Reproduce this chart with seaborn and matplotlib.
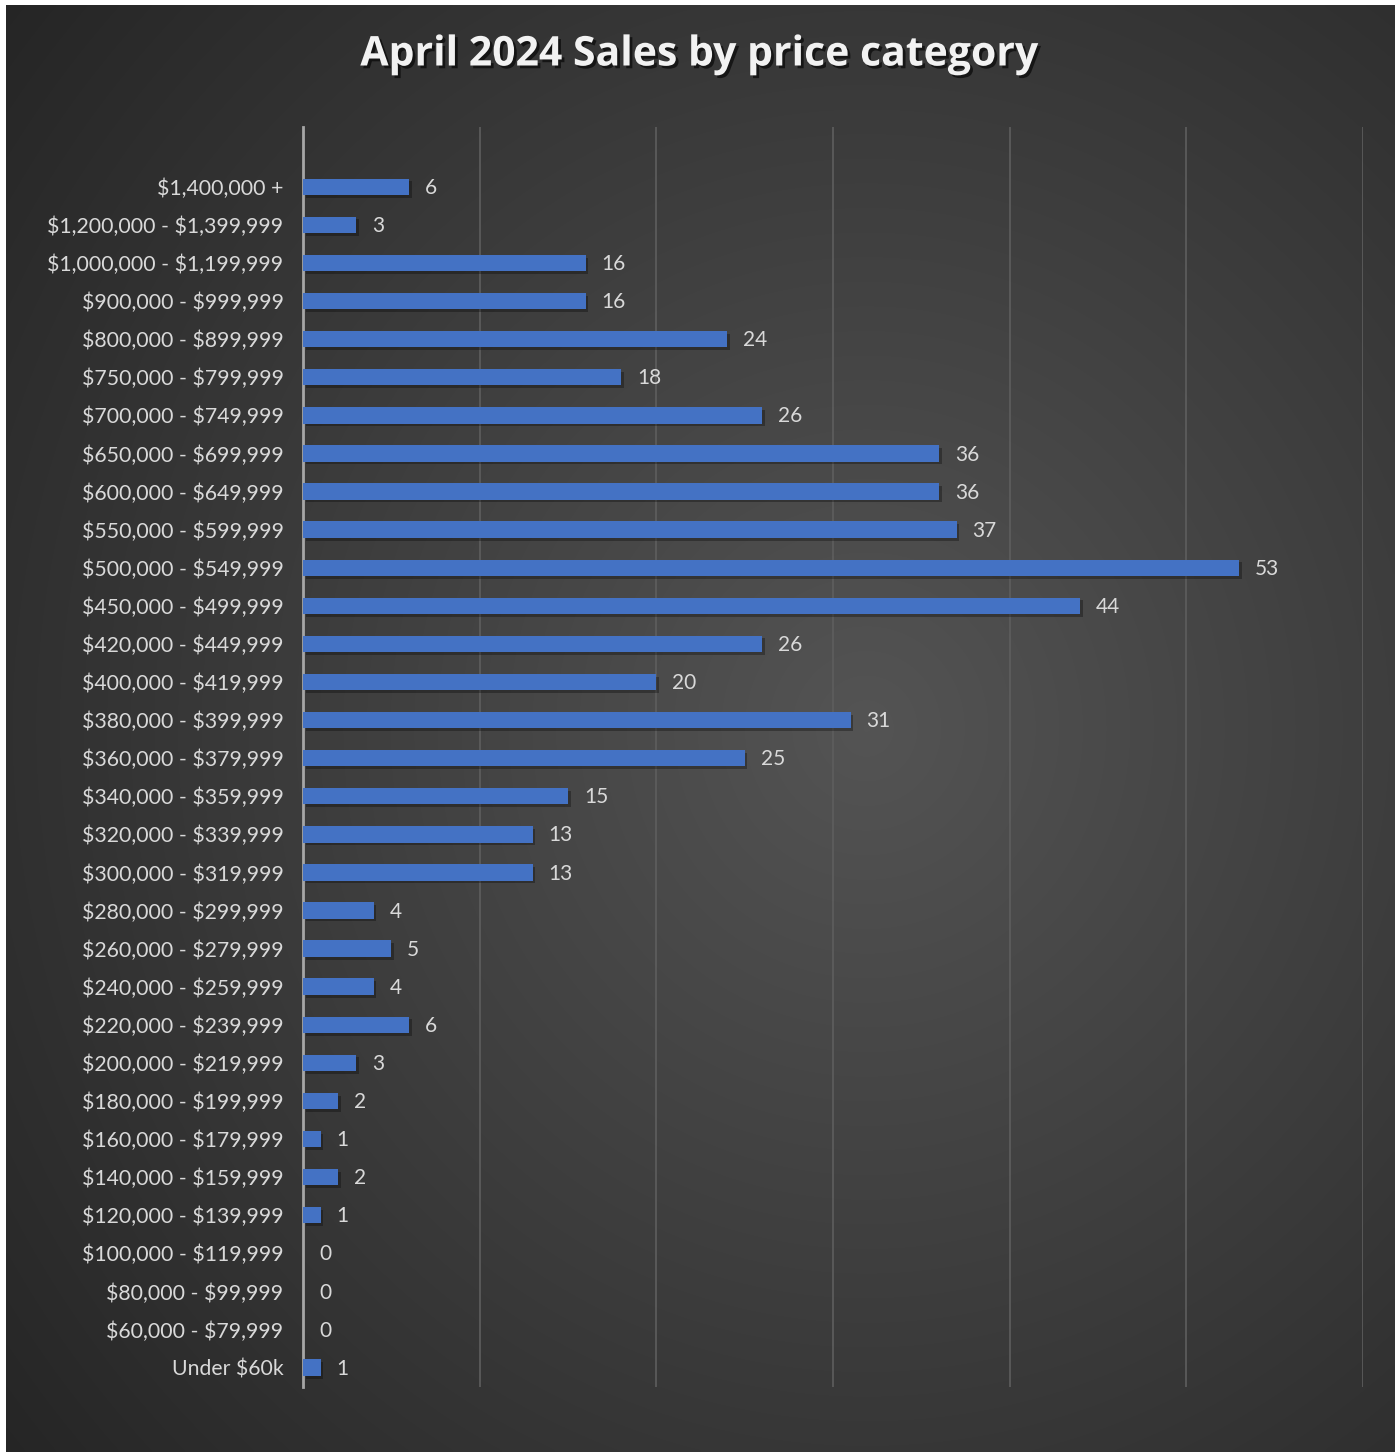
import numpy as np
import pandas as pd
import seaborn as sns
import matplotlib.pyplot as plt
import matplotlib.patheffects as pe

# data, top to bottom as shown
categories = ["$1,400,000 +", "$1,200,000 - $1,399,999", "$1,000,000 - $1,199,999",
              "$900,000 - $999,999", "$800,000 - $899,999", "$750,000 - $799,999",
              "$700,000 - $749,999", "$650,000 - $699,999", "$600,000 - $649,999",
              "$550,000 - $599,999", "$500,000 - $549,999", "$450,000 - $499,999",
              "$420,000 - $449,999", "$400,000 - $419,999", "$380,000 - $399,999",
              "$360,000 - $379,999", "$340,000 - $359,999", "$320,000 - $339,999",
              "$300,000 - $319,999", "$280,000 - $299,999", "$260,000 - $279,999",
              "$240,000 - $259,999", "$220,000 - $239,999", "$200,000 - $219,999",
              "$180,000 - $199,999", "$160,000 - $179,999", "$140,000 - $159,999",
              "$120,000 - $139,999", "$100,000 - $119,999", "$80,000 - $99,999",
              "$60,000 - $79,999", "Under $60k"]
sales = [6, 3, 16, 16, 24, 18, 26, 36, 36, 37, 53, 44, 26, 20, 31, 25, 15, 13, 13,
         4, 5, 4, 6, 3, 2, 1, 2, 1, 0, 0, 0, 1]

df = pd.DataFrame({"category": categories, "sales": sales})

sns.set_theme(style="white")
plt.rcParams["font.family"] = ["Lato", "DejaVu Sans"]
plt.rcParams["text.parse_math"] = False  # labels contain literal $ signs

fig = plt.figure(figsize=(14, 14.54), dpi=100, facecolor="white")

# dark radial gradient background
bg = fig.add_axes([6 / 1400, 2 / 1454, 1389 / 1400, 1447 / 1454], zorder=-5)
yy, xx = np.mgrid[0:1:400j, 0:1:400j]
r = np.sqrt((xx - 0.62) ** 2 + (yy - 0.5) ** 2)
shade = np.clip(0.33 - 0.23 * r, 0.13, 0.33)
bg.imshow(np.dstack([shade] * 3), aspect="auto", extent=[0, 1, 0, 1], interpolation="bilinear")
bg.set_axis_off()

ax = fig.add_axes([303 / 1400, 1 - 1387 / 1454, 1060 / 1400, 1260 / 1454])
ax.patch.set_alpha(0)

sns.barplot(data=df, x="sales", y="category", color="#4472C4", width=0.43,
            saturation=1, ax=ax, zorder=3)
for bar in ax.patches:
    bar.set_path_effects([pe.SimplePatchShadow(offset=(2, -2), shadow_rgbFace="black", alpha=0.3),
                          pe.Normal()])
    bar.set_linewidth(0)

for i, v in enumerate(sales):
    ax.text(v + 0.9, i + 0.03, str(v), va="center", ha="left", fontsize=15, color="#d9d9d9")

ax.set_xlim(0, 60)
ax.set_ylim(len(categories) - 1 + 0.51, -1.57)
ax.set_xticks(range(0, 61, 10))
ax.set_xticklabels([])
ax.xaxis.grid(True, color="#5e5e5e", linewidth=1.2, zorder=0)
ax.yaxis.grid(False)
ax.tick_params(axis="y", length=0, pad=14, labelsize=15.3, labelcolor="#d9d9d9")
ax.tick_params(axis="x", length=0)
ax.set_xlabel("")
ax.set_ylabel("")
for side in ["top", "right", "bottom"]:
    ax.spines[side].set_visible(False)
ax.spines["left"].set_color("#a6a6a6")
ax.spines["left"].set_linewidth(2)

fig.text(0.5, 1 - 55 / 1454, "April 2024 Sales by price category", ha="center", va="center",
         fontsize=29.5, fontweight="bold", color="#f2f2f2", family="Open Sans",
         path_effects=[pe.withSimplePatchShadow(offset=(2, -2), shadow_rgbFace="black", alpha=0.6)])

plt.savefig("out.png", dpi=100, facecolor="white")
